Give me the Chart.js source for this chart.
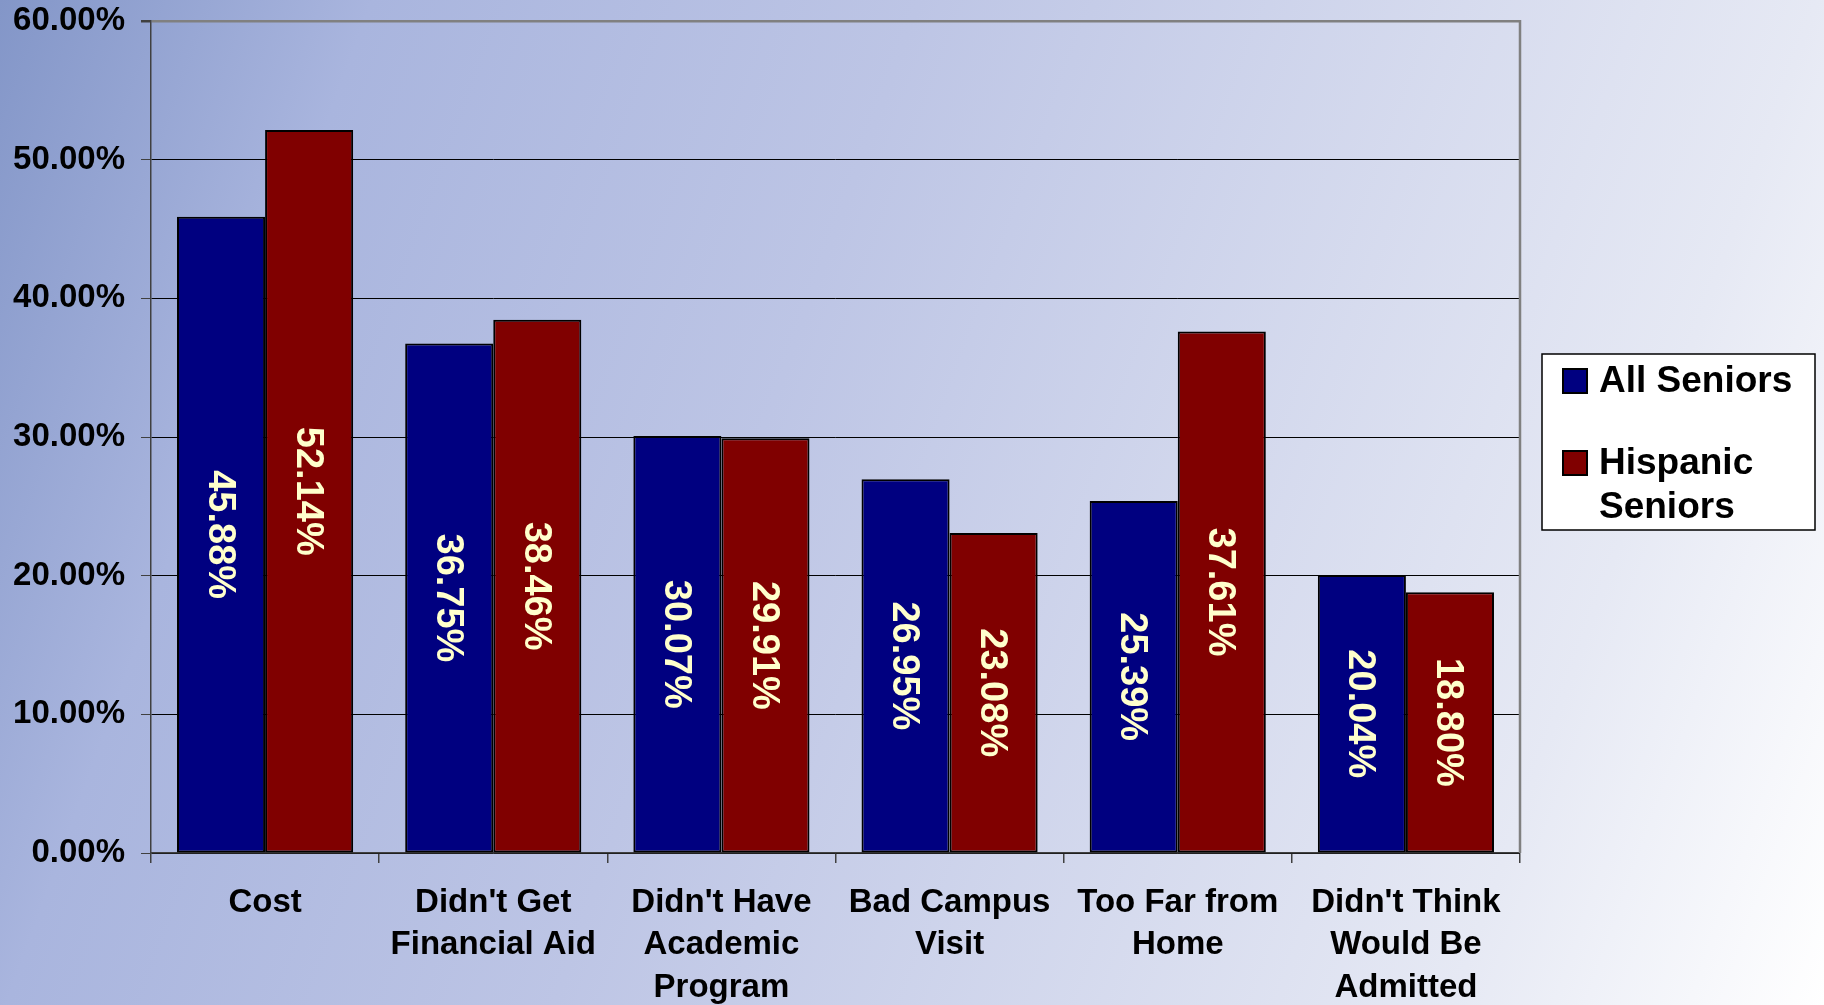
<!DOCTYPE html>
<html>
<head>
<meta charset="utf-8">
<script src="https://cdn.jsdelivr.net/npm/chart.js@4.4.1/dist/chart.umd.min.js"></script>
<style>
  html, body { margin: 0; padding: 0; }
  body {
    width: 1824px; height: 1005px; overflow: hidden;
    background: linear-gradient(110deg, #8396c8 0%, #a9b5de 17%, #bdc5e5 42%, #e6e9f4 83%, #ffffff 100%);
  }
  #wrap { position: relative; width: 1824px; height: 1005px; }
</style>
</head>
<body>
<div id="wrap"><canvas id="chart"></canvas></div>
<script>
// Reasons seniors gave for not applying, by group (percent)
const categories = [
  "Cost",
  ["Didn't Get", "Financial Aid"],
  ["Didn't Have", "Academic", "Program"],
  ["Bad Campus", "Visit"],
  ["Too Far from", "Home"],
  ["Didn't Think", "Would Be", "Admitted"]
]
const seriesNames = ["All Seniors", "Hispanic Seniors"]
const allSeniors = [45.88, 36.75, 30.07, 26.95, 25.39, 20.04]
const hispanicSeniors = [52.14, 38.46, 29.91, 23.08, 37.61, 18.80]
const yTicks = [0, 10, 20, 30, 40, 50, 60]

// Rotated value labels in the middle of each bar
const barLabels = {
  id: "barLabels",
  afterDatasetsDraw(chart) {
    const ctx = chart.ctx
    ctx.save()
    ctx.fillStyle = "#ffffcc"
    ctx.font = "bold 38px 'Liberation Sans', Arial, sans-serif"
    ctx.textAlign = "center"
    ctx.textBaseline = "middle"
    chart.data.datasets.forEach((ds, i) => {
      chart.getDatasetMeta(i).data.forEach((bar, j) => {
        ctx.save()
        ctx.translate(bar.x, (bar.y + bar.base) / 2)
        ctx.rotate(Math.PI / 2)
        ctx.fillText(ds.data[j].toFixed(2) + "%", 0, 2)
        ctx.restore()
      })
    })
    ctx.restore()
  }
}

// Gray frame on the right side of the plot + boxed legend
const frameAndLegend = {
  id: "frameAndLegend",
  afterDraw(chart) {
    const { ctx, chartArea } = chart
    ctx.save()
    ctx.strokeStyle = "#808080"
    ctx.lineWidth = 2.5
    ctx.beginPath()
    ctx.moveTo(chartArea.right, chartArea.top - 1)
    ctx.lineTo(chartArea.right, chartArea.bottom)
    ctx.stroke()

    // legend box
    const boxL = chartArea.right + 22, boxW = 273, boxH = 176
    const boxT = (chartArea.top + chartArea.bottom) / 2 - boxH / 2 + 5
    ctx.fillStyle = "#ffffff"
    ctx.fillRect(boxL, boxT, boxW, boxH)
    ctx.strokeStyle = "#000000"
    ctx.lineWidth = 1.5
    ctx.strokeRect(boxL, boxT, boxW, boxH)

    ctx.font = "bold 37px 'Liberation Sans', Arial, sans-serif"
    ctx.textBaseline = "middle"
    ctx.textAlign = "left"
    const textX = boxL + 57
    const maxW = boxL + boxW - textX - 6
    let y = boxT + 27
    chart.data.datasets.forEach((ds, i) => {
      // wrap words into lines
      const words = ds.label.split(" ")
      const lines = []
      let cur = ""
      words.forEach(w => {
        const t = cur ? cur + " " + w : w
        if (ctx.measureText(t).width > maxW && cur) { lines.push(cur); cur = w } else cur = t
      })
      lines.push(cur)
      ctx.fillStyle = ds.backgroundColor
      ctx.fillRect(boxL + 21, y - 12, 24, 24)
      ctx.strokeStyle = "#000000"
      ctx.lineWidth = 2
      ctx.strokeRect(boxL + 21, y - 12, 24, 24)
      ctx.fillStyle = "#000000"
      lines.forEach((ln, k) => ctx.fillText(ln, textX, y + 1 + k * 44))
      y += 82
    })
    ctx.restore()
  }
}

new Chart(document.getElementById("chart"), {
  type: "bar",
  data: {
    labels: categories,
    datasets: [
      { label: seriesNames[0], data: allSeniors, backgroundColor: "#000080" },
      { label: seriesNames[1], data: hispanicSeniors, backgroundColor: "#800000" }
    ]
  },
  options: {
    responsive: true,
    maintainAspectRatio: false,
    animation: false,
    layout: { padding: { top: 21, right: 304, left: 0, bottom: 0 } },
    datasets: {
      bar: {
        categoryPercentage: 0.772,
        barPercentage: 1,
        borderColor: "#000000",
        borderWidth: 2,
        borderSkipped: false
      }
    },
    plugins: {
      legend: { display: false },
      tooltip: { enabled: false }
    },
    scales: {
      x: {
        afterFit: (s) => { s.height = 152 },
        grid: {
          drawOnChartArea: false,
          drawTicks: true,
          tickLength: 10,
          color: "#404040",
          lineWidth: 1.5
        },
        border: { color: "#404040", width: 1.5 },
        ticks: {
          color: "#000000",
          padding: 19,
          maxRotation: 0,
          autoSkip: false,
          font: { family: "'Liberation Sans Narrow', 'Arial Narrow', 'Liberation Sans', sans-serif", weight: "bold", size: 33, lineHeight: 1.28 }
        }
      },
      y: {
        min: yTicks[0],
        max: yTicks[yTicks.length - 1],
        afterFit: (s) => { s.width = 151; s.paddingTop = 0; s.paddingBottom = 0 },
        afterBuildTicks: (s) => { s.ticks = yTicks.map(v => ({ value: v })) },
        grid: {
          color: (c) => c.tick && c.tick.value === 60 ? "#808080" : "#000000",
          lineWidth: (c) => c.tick && c.tick.value === 60 ? 2.5 : 1,
          tickColor: "#404040",
          tickLength: 10
        },
        border: { color: "#404040", width: 1.5 },
        ticks: {
          color: "#000000",
          padding: 16,
          font: { family: "'Liberation Sans', Arial, sans-serif", weight: "bold", size: 33 },
          callback: (v) => Number(v).toFixed(2) + "%"
        }
      }
    }
  },
  plugins: [barLabels, frameAndLegend]
})
</script>
</body>
</html>
